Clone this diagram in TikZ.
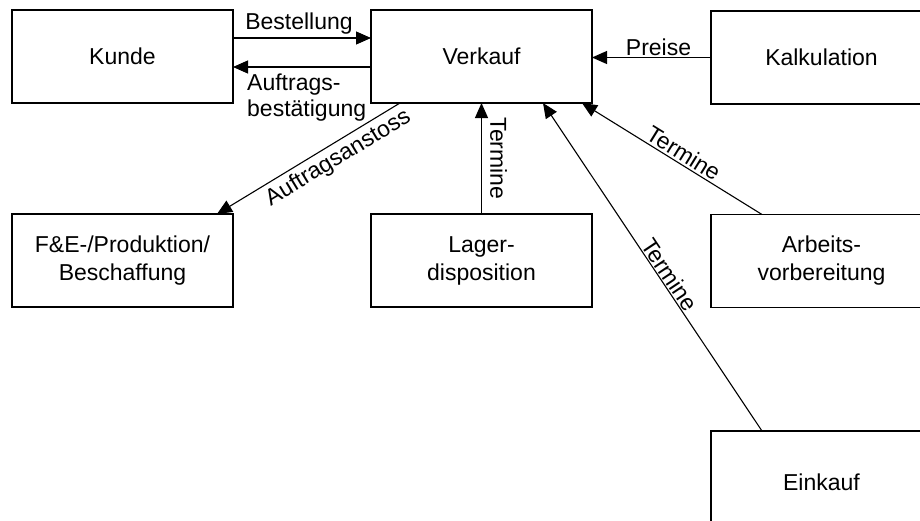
\documentclass[tikz,border=0pt]{standalone}
\usepackage{fontspec}
\setmainfont{Liberation Sans}
\usetikzlibrary{arrows.meta}
\begin{document}
\begin{tikzpicture}[x=1pt,y=-1pt,
  box/.style={draw, line width=1.5pt, minimum width=221pt, minimum height=93pt,
    inner sep=0pt, outer sep=0pt, align=center, font=\fontsize{23}{28}\selectfont},
  conn/.style={line width=1.1pt, -{Triangle[length=15pt,width=13pt]}},
  lbl/.style={font=\fontsize{23}{26}\selectfont, inner sep=2pt}]
\useasboundingbox (0,0) rectangle (920,520);
\clip (0,0) rectangle (920,520);

% departments
\node[box] (kunde)   at (122.5,56.5) {Kunde};
\node[box] (verkauf) at (481.5,56.5) {Verkauf};
\node[box] (kalk)    at (821.5,57.5) {Kalkulation};
\node[box] (fe)      at (122.5,260.5) {F\&E-/Produktion/\\Beschaffung};
\node[box] (lager)   at (481.5,260.5) {Lager-\\disposition};
\node[box] (avor)    at (821.5,261) {Arbeits-\\vorbereitung};
\node[box, minimum height=102pt] (einkauf) at (821.5,482) {Einkauf};

% order flow between customer and sales
\draw[conn] ([yshift=18.5pt]kunde.east) --
  node[lbl, above, xshift=-3pt, inner sep=3pt] (lbest) {Bestellung}
  ([yshift=18.5pt]verkauf.west);
\draw[conn] ([yshift=-10.5pt]verkauf.west) -- ([yshift=-10.5pt]kunde.east);
\node[lbl, anchor=north west, align=left, inner sep=0pt] (lbest2) at (247,74)
  {Auftrags-\\bestätigung};

% prices from costing
\draw[conn] (kalk.west) --
  node[lbl, above, xshift=7pt, inner sep=1.5pt] (lpreise) {Preise}
  (kalk.west -| verkauf.east);

% order release to production
\draw[conn] ([xshift=-81.5pt]verkauf.south) --
  node[lbl, sloped, below, pos=0.38, inner sep=4pt] (lanst) {Auftragsanstoss}
  ([xshift=94.5pt]fe.north);

% dates reported to sales
\draw[conn] (lager.north) --
  node[lbl, midway, rotate=-90, anchor=south, inner sep=8pt] (lterm1) {Termine}
  (verkauf.south);
\draw[conn] ([xshift=-59.5pt]avor.north) --
  node[lbl, sloped, above, pos=0.467, inner sep=2pt] (lterm2) {Termine}
  ([xshift=100.5pt]verkauf.south);
\draw[conn] ([xshift=-59.5pt]einkauf.north) --
  node[lbl, sloped, above, pos=0.46, inner sep=1pt] (lterm3) {Termine}
  ([xshift=61.5pt]verkauf.south);
\end{tikzpicture}
\end{document}
